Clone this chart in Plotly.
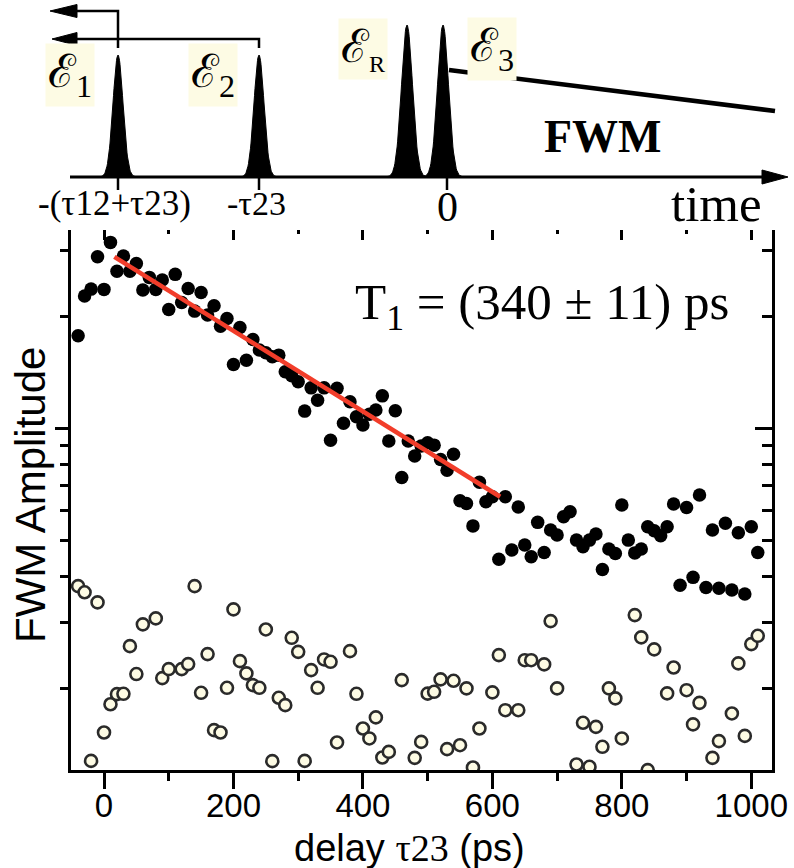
import math
import plotly.graph_objects as go

# ---------------- data ----------------
delay_filled = [-40, -30, -20, -10, 0, 10, 20, 30, 40, 50, 60, 70, 80, 90, 100, 110, 120, 130, 140, 150,
                160, 170, 180, 190, 200, 210, 220, 230, 240, 250, 260, 270, 280, 290, 300, 310, 320, 330, 340, 350,
                360, 370, 380, 390, 400, 410, 420, 430, 440, 450, 460, 470, 480, 490, 500, 510, 520, 530, 540, 550,
                560, 570, 580, 590, 600, 610, 620, 630, 640, 650, 660, 670, 680, 690, 700, 710, 720, 730, 740, 750,
                760, 770, 780, 790, 800, 810, 820, 830, 840, 850, 860, 870, 880, 890, 900, 910, 920, 930, 940, 950,
                960, 970, 980, 990, 1000, 1010]
amp_filled = [1.771, 2.264, 2.364, 2.887, 2.360, 3.157, 2.642, 2.900, 2.642, 2.771, 2.350, 2.542, 2.360, 2.500,
              2.085, 2.590, 2.177, 2.374, 2.063, 2.316, 2.013, 2.132, 1.880, 1.972, 1.483, 1.865, 1.523, 1.731,
              1.621, 1.594, 1.555, 1.571, 1.417, 1.382, 1.332, 1.111, 1.283, 1.189, 1.283, 0.928, 1.279, 1.030,
              1.177, 1.073, 1.019, 1.089, 1.118, 1.221, 0.923, 1.113, 0.737, 0.923, 0.841, 0.895, 0.913, 0.900,
              0.824, 0.771, 0.851, 0.638, 0.627, 0.546, 0.715, 0.634, 0.654, 0.444, 0.654, 0.470, 0.614, 0.485,
              0.451, 0.558, 0.463, 0.532, 0.516, 0.578, 0.596, 0.500, 0.480, 0.500, 0.519, 0.417, 0.473, 0.460,
              0.621, 0.500, 0.462, 0.473, 0.543, 0.530, 0.514, 0.543, 0.625, 0.378, 0.612, 0.397, 0.661, 0.373,
              0.532, 0.371, 0.555, 0.367, 0.523, 0.358, 0.543, 0.463]

delay_open = [-40, -30, -20, -10, 0, 10, 20, 30, 40, 50, 60, 80, 90, 100, 120, 130, 140, 150, 160, 170,
              180, 190, 200, 210, 220, 230, 240, 250, 260, 270, 280, 290, 300, 310, 320, 330, 340, 350, 360, 380,
              390, 400, 410, 420, 430, 440, 460, 480, 490, 500, 510, 520, 530, 540, 550, 560, 570, 580, 600, 610,
              620, 640, 650, 660, 680, 690, 700, 730, 740, 750, 760, 770, 780, 790, 800, 820, 830, 840, 850, 870,
              880, 900, 910, 920, 940, 950, 970, 980, 990, 1000, 1010]
amp_open = [0.376, 0.362, 0.1275, 0.340, 0.152, 0.181, 0.1927, 0.1931, 0.2594, 0.2182, 0.2968, 0.3080, 0.2128,
            0.2250, 0.2250, 0.2321, 0.376, 0.1943, 0.2469, 0.1542, 0.152, 0.2004, 0.3256, 0.2364, 0.2191, 0.2038,
            0.2004, 0.2876, 0.1273, 0.1884, 0.1800, 0.2731, 0.2504, 0.1275, 0.2236, 0.2004, 0.2389, 0.2354, 0.1429,
            0.2515, 0.1931, 0.1558, 0.1465, 0.1669, 0.1302, 0.1348, 0.2102, 0.1299, 0.1434, 0.1933, 0.1955, 0.2111,
            0.1371, 0.2093, 0.1405, 0.1997, 0.1224, 0.1558, 0.1948, 0.2454, 0.1745, 0.1745, 0.2378, 0.2378, 0.2317,
            0.3029, 0.1997, 0.1247, 0.1614, 0.1229, 0.1574, 0.1391, 0.1997, 0.1877, 0.1465, 0.3143, 0.2738, 0.1204,
            0.2542, 0.1936, 0.2273, 0.1975, 0.1598, 0.1826, 0.1299, 0.1441, 0.1710, 0.2331, 0.1488, 0.2627, 0.2765]

fit_delay = [16, 612]
fit_amp = [2.887, 0.654]

x_ticks = [0, 200, 400, 600, 800, 1000]
x_minor = [100, 300, 500, 700, 900]
y_major = [1]
y_minor = [0.2, 0.3, 0.4, 0.5, 0.6, 0.7, 0.8, 0.9, 2, 3]

# schematic (pulse sequence), in schematic time units
pulse_names = ["ℰ<sub>1</sub>", "ℰ<sub>2</sub>", "ℰ<sub><span style='font-size:24px'>R</span></sub>", "ℰ<sub>3</sub>"]
pulse_time = [-329, -188, -40, -4]
pulse_height = [122, 122, 152, 152]
pulse_sigma = [5.0, 5.0, 5.5, 5.5]
time_tick_pos = [-329, -188, 0]
time_tick_text = ["-(τ12+τ23)", "-τ23", "0"]

assert len(delay_filled) == len(amp_filled)
assert len(delay_open) == len(amp_open)

W, H = 794, 868
PL, PR, PT, PB = 71, 772, 225, 770
LOGMIN, LOGMAX = -0.919, 0.546
XMIN, XMAX = -51, 1032

SERIF = "Liberation Serif, DejaVu Serif, serif"
SANS = "Liberation Sans, Arial, sans-serif"
CREAM = "#fdfbe4"

fig = go.Figure()

# --- main data ---
fig.add_trace(go.Scatter(x=delay_open, y=amp_open, mode="markers",
                         marker=dict(size=12, color=CREAM, line=dict(color="#2a2a2a", width=2.6)),
                         showlegend=False, hoverinfo="skip"))
fig.add_trace(go.Scatter(x=delay_filled, y=amp_filled, mode="markers",
                         marker=dict(size=13.5, color="black", line=dict(width=0)),
                         showlegend=False, hoverinfo="skip"))
fig.add_trace(go.Scatter(x=fit_delay, y=fit_amp, mode="lines",
                         line=dict(color="#f23d2a", width=4.5),
                         showlegend=False, hoverinfo="skip"))
# dummy traces so the mirrored (inside-tick) axes exist
fig.add_trace(go.Scatter(x=[None], y=[None], xaxis="x2", yaxis="y", showlegend=False, hoverinfo="skip"))
fig.add_trace(go.Scatter(x=[None], y=[None], xaxis="x", yaxis="y2", showlegend=False, hoverinfo="skip"))

# --- schematic ---
for c, h, s in zip(pulse_time, pulse_height, pulse_sigma):
    n = 81
    xs = [c - 4 * s + 8 * s * i / (n - 1) for i in range(n)]
    ys = [h * math.exp(-((x - c) ** 2) / (2 * s * s)) for x in xs]
    fig.add_trace(go.Scatter(x=xs + [xs[-1], xs[0]], y=ys + [0, 0], xaxis="x3", yaxis="y3",
                             mode="lines", fill="toself", fillcolor="black",
                             line=dict(color="black", width=1), showlegend=False,
                             hoverinfo="skip", cliponaxis=False))


def seg(xs, ys, w):
    fig.add_trace(go.Scatter(x=xs, y=ys, xaxis="x3", yaxis="y3", mode="lines",
                             line=dict(color="black", width=w), showlegend=False,
                             hoverinfo="skip", cliponaxis=False))


def tri(xs, ys):
    fig.add_trace(go.Scatter(x=xs, y=ys, xaxis="x3", yaxis="y3", mode="lines", fill="toself",
                             fillcolor="black", line=dict(color="black", width=1),
                             showlegend=False, hoverinfo="skip", cliponaxis=False))


# time axis with arrow
seg([-377, 318], [0, 0], 3)
tri([315, 341, 315, 315], [7, 0, -7, 7])
for tp in time_tick_pos:
    seg([tp, tp], [0, -13], 2.5)
# delay arrows
seg([pulse_time[0], pulse_time[0], -372], [129, 166, 166], 2.5)
tri([-370, -397, -370, -370], [172.5, 166, 159.5, 172.5])
seg([pulse_time[1], pulse_time[1], -372], [129, 138, 138], 2.5)
tri([-370, -395, -370, -370], [144.5, 138, 131.5, 144.5])
# FWM decay line
seg([2, 328], [107, 66], 4.5)

ann = []
label_pos = [(-377, 102), (-234, 102.5), (-84, 128.5), (44.5, 128.5)]
for name, (lx, ly) in zip(pulse_names, label_pos):
    ann.append(dict(x=lx, y=ly, xref="x3", yref="y3", text=name, showarrow=False,
                    xanchor="center", yanchor="middle",
                    font=dict(family=SERIF, size=46, color="black"), bgcolor=CREAM, borderpad=2))
tick_lab_x = [-333, -191, 0]
for tx, tt, ty, fs in zip(tick_lab_x, time_tick_text, [-26, -26, -30], [35, 34, 42]):
    ann.append(dict(x=tx, y=ty, xref="x3", yref="y3", xanchor="center", yanchor="middle",
                    text=tt, showarrow=False, font=dict(family=SERIF, size=fs, color="black")))
ann.append(dict(x=269, y=-27, xref="x3", yref="y3", text="time", showarrow=False,
                xanchor="center", yanchor="middle",
                font=dict(family=SERIF, size=51, color="black")))
ann.append(dict(x=156, y=41, xref="x3", yref="y3", text="<b>FWM</b>", showarrow=False,
                xanchor="center", yanchor="middle",
                font=dict(family=SERIF, size=46, color="black")))

# T1 result
ann.append(dict(x=542 / W, y=1 - 306 / H, xref="paper", yref="paper",
                xanchor="center", yanchor="middle",
                text="T<sub>1</sub> = (340 ± 11) ps", showarrow=False,
                font=dict(family=SERIF, size=51, color="black")))
# axis titles
ann.append(dict(x=30 / W, y=1 - 495 / H, xref="paper", yref="paper", text="FWM Amplitude",
                xanchor="center", yanchor="middle",
                textangle=-90, showarrow=False, font=dict(family=SANS, size=42, color="black")))
ann.append(dict(x=410 / W, y=1 - 848 / H, xref="paper", yref="paper",
                xanchor="center", yanchor="middle",
                text="delay <span style='font-family:Liberation Serif'>τ23</span> (ps)",
                showarrow=False, font=dict(family=SANS, size=38, color="black")))

xdom = [PL / W, PR / W]
ydom = [1 - PB / H, 1 - PT / H]

fig.update_layout(
    width=W, height=H,
    margin=dict(l=0, r=0, t=0, b=0, autoexpand=False),
    paper_bgcolor="white", plot_bgcolor="white",
    showlegend=False,
    annotations=ann,
    xaxis=dict(domain=xdom, anchor="y", range=[XMIN, XMAX], showgrid=False, zeroline=False,
               showline=True, linecolor="black", linewidth=2.5,
               ticks="outside", ticklen=16, tickwidth=2.5, tickcolor="black",
               tickmode="array", tickvals=x_ticks, ticklabelstandoff=-11,
               tickfont=dict(family=SANS, size=33, color="black"),
               minor=dict(tickmode="array", tickvals=x_minor, ticks="outside", ticklen=8,
                          tickwidth=2.5, tickcolor="black")),
    xaxis2=dict(overlaying="x", anchor="y", side="top", range=[XMIN, XMAX], showgrid=False,
                zeroline=False, showline=True, linecolor="black", linewidth=2.5,
                ticks="inside", ticklen=15, tickwidth=2.5, tickcolor="black",
                tickmode="array", tickvals=x_ticks, showticklabels=False,
                minor=dict(tickmode="array", tickvals=x_minor, ticks="inside", ticklen=9,
                           tickwidth=2.5, tickcolor="black")),
    yaxis=dict(domain=ydom, anchor="x", type="log", range=[LOGMIN, LOGMAX], showgrid=False,
               zeroline=False, showline=True, linecolor="black", linewidth=2.5,
               ticks="outside", ticklen=13, tickwidth=2.5, tickcolor="black",
               tickmode="array", tickvals=y_major, showticklabels=False,
               minor=dict(tickmode="array", tickvals=y_minor, ticks="outside", ticklen=8,
                          tickwidth=2.5, tickcolor="black")),
    yaxis2=dict(overlaying="y", anchor="x", side="right", type="log", range=[LOGMIN, LOGMAX],
                showgrid=False, zeroline=False, showline=True, linecolor="black", linewidth=2.5,
                ticks="inside", ticklen=17, tickwidth=2.5, tickcolor="black",
                tickmode="array", tickvals=y_major, showticklabels=False,
                minor=dict(tickmode="array", tickvals=y_minor, ticks="inside", ticklen=10,
                           tickwidth=2.5, tickcolor="black")),
    xaxis3=dict(domain=[0, 1], anchor="y3", range=[-447, 347], visible=False, fixedrange=True),
    yaxis3=dict(domain=[1 - 230 / H, 1], anchor="x3", range=[-53, 177], visible=False, fixedrange=True),
)

fig.write_html("out.html", config={"displayModeBar": False},
               post_script="document.body.style.margin='0';")
